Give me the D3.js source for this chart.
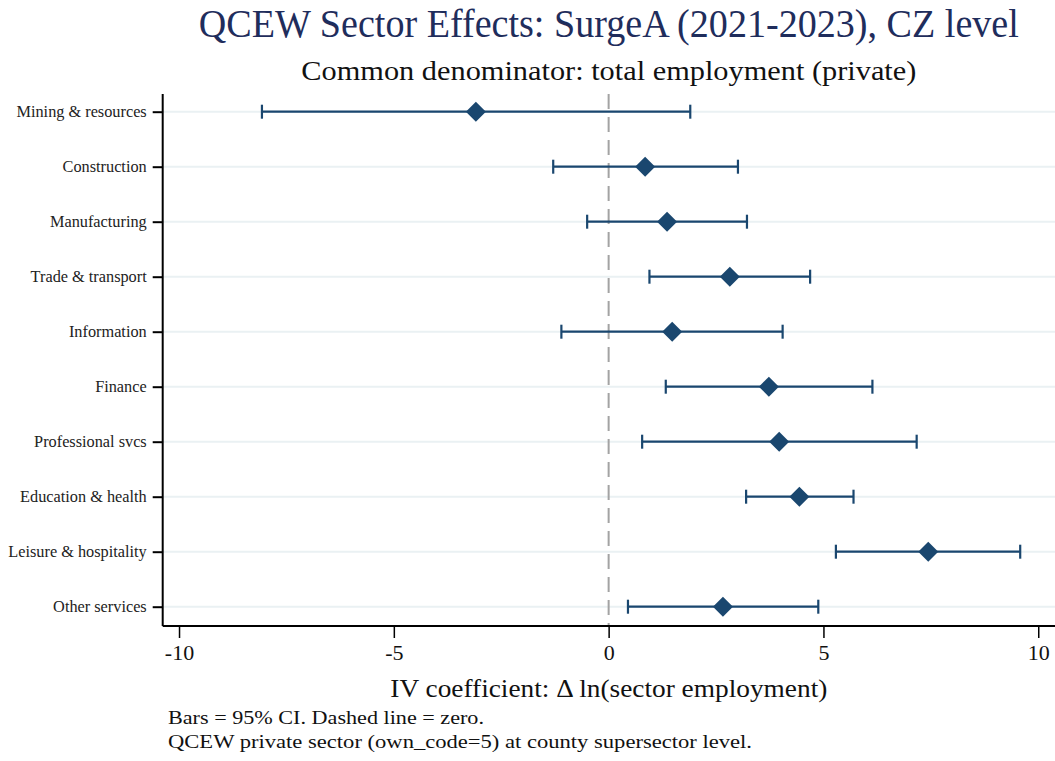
<!DOCTYPE html>
<html>
<head>
<meta charset="utf-8">
<script src="https://cdn.jsdelivr.net/npm/d3@7"></script>
<style>
  body { margin: 0; background: #fff; }
  svg { font-family: "Liberation Serif", "DejaVu Serif", serif; }
</style>
</head>
<body>
<svg id="chart" width="1055" height="761"></svg>
<script>
// sector coefficient estimates
const sectors = ["Mining & resources", "Construction", "Manufacturing", "Trade & transport",
  "Information", "Finance", "Professional svcs", "Education & health",
  "Leisure & hospitality", "Other services"];
const coef = [-3.09, 0.85, 1.36, 2.82, 1.48, 3.73, 3.97, 4.44, 7.44, 2.66];
const ciLow = [-8.07, -1.29, -0.50, 0.95, -1.10, 1.33, 0.78, 3.20, 5.29, 0.45];
const ciHigh = [1.90, 3.01, 3.22, 4.69, 4.05, 6.14, 7.17, 5.70, 9.58, 4.88];
const xTicks = [-10, -5, 0, 5, 10];

const svg = d3.select('#chart'),
  width = +svg.attr('width'),
  height = +svg.attr('height');

const plotLeft = 162.7, plotRight = 1055, plotTop = 94, plotBottom = 626;
const navy = "#1a476f";

const x = d3.scaleLinear()
  .domain([-10.38, 10.39])
  .range([plotLeft, plotRight]);

const y = d3.scalePoint()
  .domain(sectors)
  .range([111.7, 606.7]);

// gridlines
svg.append('g')
  .selectAll('line')
  .data(sectors)
  .enter()
  .append('line')
  .attr('x1', plotLeft)
  .attr('x2', plotRight)
  .attr('y1', d => y(d))
  .attr('y2', d => y(d))
  .attr('stroke', '#eaf1f3')
  .attr('stroke-width', 2);

// zero reference line
svg.append('line')
  .attr('x1', x(0)).attr('x2', x(0))
  .attr('y1', plotTop).attr('y2', plotBottom)
  .attr('stroke', '#a3a3a3')
  .attr('stroke-width', 2)
  .attr('stroke-dasharray', '15,8');

// y axis
const yAxis = svg.append('g')
  .attr('transform', 'translate(' + plotLeft + ',0)')
  .call(d3.axisLeft(y).tickSize(10).tickPadding(6));
yAxis.select('.domain').attr('d', 'M0,' + plotTop + 'V' + plotBottom).attr('stroke', '#000').attr('stroke-width', 2);
yAxis.selectAll('.tick line').attr('stroke', '#000').attr('stroke-width', 2);
yAxis.selectAll('.tick text')
  .attr('font-family', '"Liberation Serif", serif')
  .attr('font-size', '16.3px')
  .attr('fill', '#222');

// x axis
const xAxis = svg.append('g')
  .attr('transform', 'translate(0,' + plotBottom + ')')
  .call(d3.axisBottom(x).tickValues(xTicks).tickSize(12).tickPadding(6).tickFormat(d3.format('d')));
xAxis.select('.domain').attr('d', 'M' + plotLeft + ',0H' + plotRight).attr('stroke', '#000').attr('stroke-width', 2);
xAxis.selectAll('.tick line').attr('stroke', '#000').attr('stroke-width', 1.5);
xAxis.selectAll('.tick text')
  .attr('font-family', '"Liberation Serif", serif')
  .attr('font-size', '22px')
  .attr('fill', '#111')
  .text(d => d < 0 ? '-' + Math.abs(d) : d);

// confidence intervals
const rows = svg.append('g')
  .selectAll('.ci')
  .data(sectors.map((s, i) => ({ s: s, b: coef[i], lo: ciLow[i], hi: ciHigh[i] })))
  .enter()
  .append('g')
  .attr('class', 'ci');

rows.append('line')
  .attr('x1', d => x(d.lo)).attr('x2', d => x(d.hi))
  .attr('y1', d => y(d.s)).attr('y2', d => y(d.s))
  .attr('stroke', navy).attr('stroke-width', 2.2);

rows.selectAll('.cap')
  .data(d => [[d.lo, d.s], [d.hi, d.s]])
  .enter()
  .append('line')
  .attr('class', 'cap')
  .attr('x1', d => x(d[0])).attr('x2', d => x(d[0]))
  .attr('y1', d => y(d[1]) - 7).attr('y2', d => y(d[1]) + 7)
  .attr('stroke', navy).attr('stroke-width', 2.2);

rows.append('path')
  .attr('d', 'M0,-10L10,0L0,10L-10,0Z')
  .attr('transform', d => 'translate(' + x(d.b) + ',' + y(d.s) + ')')
  .attr('fill', navy);

// titles
function fitText(sel, w) {
  sel.attr('textLength', w).attr('lengthAdjust', 'spacingAndGlyphs');
}
const cx = (plotLeft + plotRight) / 2;
svg.append('text')
  .attr('x', cx).attr('y', 37)
  .attr('text-anchor', 'middle')
  .attr('font-size', '39px')
  .attr('fill', '#1f2d5c')
  .text('QCEW Sector Effects: SurgeA (2021-2023), CZ level')
  .call(fitText, 820);

svg.append('text')
  .attr('x', cx).attr('y', 80)
  .attr('text-anchor', 'middle')
  .attr('font-size', '27px')
  .attr('fill', '#111')
  .text('Common denominator: total employment (private)')
  .call(fitText, 615);

svg.append('text')
  .attr('x', cx).attr('y', 697)
  .attr('text-anchor', 'middle')
  .attr('font-size', '25px')
  .attr('fill', '#111')
  .text('IV coefficient: Δ ln(sector employment)')
  .call(fitText, 437);

// notes
const notes = ['Bars = 95% CI. Dashed line = zero.',
  'QCEW private sector (own_code=5) at county supersector level.'];
const noteW = [316, 584];
svg.append('g')
  .selectAll('text')
  .data(notes)
  .enter()
  .append('text')
  .attr('x', 168)
  .attr('y', (d, i) => 724 + i * 24)
  .attr('font-size', '19px')
  .attr('fill', '#111')
  .attr('textLength', (d, i) => noteW[i])
  .attr('lengthAdjust', 'spacingAndGlyphs')
  .text(d => d);
</script>
</body>
</html>
